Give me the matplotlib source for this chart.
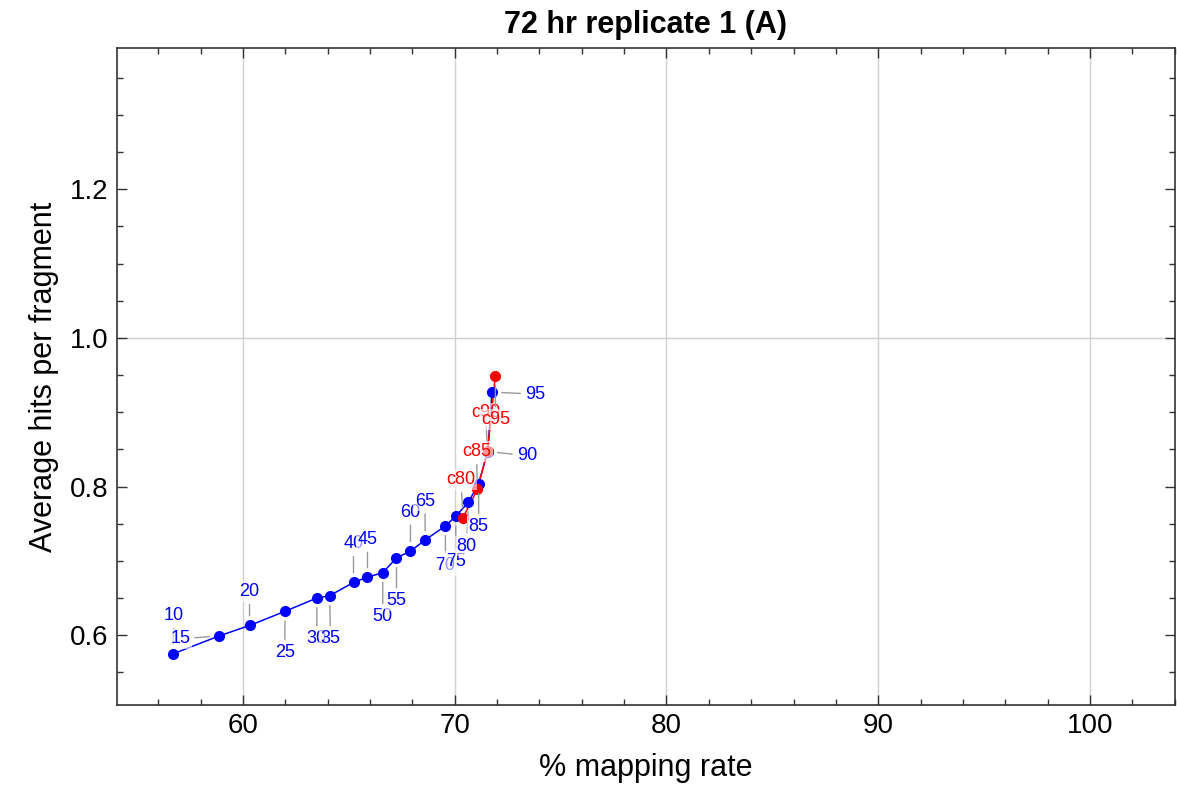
import matplotlib
matplotlib.use("Agg")
import matplotlib.pyplot as plt
from matplotlib.ticker import MultipleLocator

plt.rcParams['font.family'] = ['Liberation Sans', 'DejaVu Sans']

# ---- data ----
blue_labels = ['10', '15', '20', '25', '30', '35', '40', '45', '50',
               '55', '60', '65', '70', '75', '80', '85', '90', '95']
blue_x = [56.71, 58.88, 60.31, 61.98, 63.49, 64.09, 65.22, 65.88, 66.60,
          67.25, 67.91, 68.60, 69.56, 70.05, 70.65, 71.13, 71.56, 71.76]
blue_y = [0.575, 0.599, 0.613, 0.632, 0.650, 0.653, 0.671, 0.678, 0.684,
          0.704, 0.713, 0.728, 0.747, 0.760, 0.779, 0.804, 0.847, 0.927]

red_labels = ['c80', 'c85', 'c90', 'c95']
red_x = [70.39, 71.07, 71.55, 71.92]
red_y = [0.758, 0.796, 0.848, 0.949]

x_ticks = [60, 70, 80, 90, 100]
y_ticks = [0.6, 0.8, 1.0, 1.2]

# label offsets (pixels) - layout only
blue_off = [(0, 38), (-39, -3), (0, 34), (0, -41), (0, -41), (1, -43),
            (0, 39), (0, 38), (0, -44), (0, -43), (0, 39), (0, 39),
            (0, -40), (0, -45), (-2, -44), (0, -43), (39, -4), (43, -2)]
red_off = [(-2, 38), (-1, 38), (-2, 38), (0, -44)]

fig = plt.figure(figsize=(11.77, 7.91), dpi=100)
ax = fig.add_axes([0.0994, 0.1087, 0.8986, 0.8306])

ax.set_xlim(54.05, 104.0)
ax.set_ylim(0.506, 1.39)

ax.set_axisbelow(True)
ax.xaxis.grid(True, color='#d0d0d0', linewidth=1.0)
ax.axhline(1.0, color='#d0d0d0', linewidth=1.0, zorder=0.5)

ax.plot(blue_x, blue_y, '-', color='blue', linewidth=1.1, zorder=2)
ax.plot(blue_x, blue_y, 'o', color='blue', markersize=7, zorder=3)
ax.plot(red_x, red_y, '-', color='red', linewidth=1.1, zorder=2)
ax.plot(red_x, red_y, 'o', color='red', markersize=7, zorder=3)

def lab(txt, x, y, off, col):
    ax.annotate(txt, xy=(x, y), xytext=off, textcoords='offset pixels',
                ha='center', va='center', color=col, fontsize=13, zorder=5,
                bbox=dict(boxstyle='square,pad=0.1', fc='white', ec='none', alpha=0.6),
                arrowprops=dict(arrowstyle='-', color='#999999', lw=1.0,
                                shrinkA=2, shrinkB=7))

for t, x, y, o in zip(blue_labels, blue_x, blue_y, blue_off):
    lab(t, x, y, o, 'blue')
for t, x, y, o in zip(red_labels, red_x, red_y, red_off):
    lab(t, x, y, o, 'red')

ax.set_xticks(x_ticks)
ax.set_yticks(y_ticks)
ax.set_yticklabels([f'{v:.1f}' for v in y_ticks])
ax.xaxis.set_minor_locator(MultipleLocator(2))
ax.yaxis.set_minor_locator(MultipleLocator(0.05))
ax.tick_params(which='both', direction='in', top=True, right=True,
               labelsize=20, color='#333333')
ax.tick_params(which='major', length=7, width=1.0, pad=6)
ax.tick_params(which='minor', length=4, width=1.0)
for s in ax.spines.values():
    s.set_color('#333333')
    s.set_linewidth(1.2)

ax.set_xlabel('% mapping rate', fontsize=22, labelpad=10)
ax.set_ylabel('Average hits per fragment', fontsize=22, labelpad=8)
ax.set_title('72 hr replicate 1 (A)', fontsize=22, fontweight='bold', pad=11)

fig.savefig('out.png', dpi=100)
